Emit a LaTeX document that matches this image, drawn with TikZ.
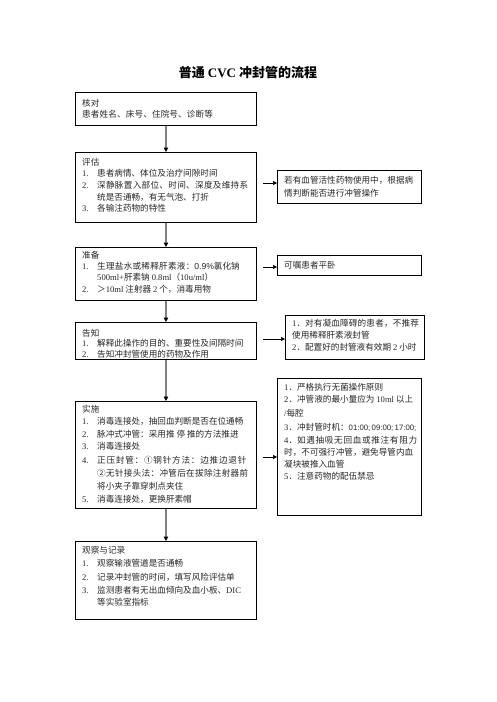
\documentclass[tikz,border=0pt]{standalone}
\usepackage{fontspec}
\setmainfont{Noto Sans CJK SC}
\newfontfamily\latinf{Liberation Serif}
\newfontfamily\sansf{Liberation Sans}
\usetikzlibrary{arrows.meta,calc}
\tikzset{
 mbox/.style={draw=black, line width=0.9pt, anchor=north west, inner sep=0pt},
 txt/.style={anchor=west, inner sep=0pt, text=black!85, font=\fontsize{8.6}{10}\selectfont, text height=7.6pt, text depth=1pt},
 varrow/.style={draw=black!50, line width=1.6pt, -{Triangle[color=black,length=4.5pt,width=4.5pt]}},
 harrow/.style={draw=black, line width=0.6pt, -{Triangle[length=4pt,width=4pt]}},
}
\newcommand\itm[1]{\makebox[15pt][l]{\latinf #1}}
\newcommand\la[1]{{\latinf #1}}
\newcommand\jst[2]{{\addfontfeatures{LetterSpace=#1}#2}}
\begin{document}
\begin{tikzpicture}[x=1pt,y=-1pt]
\useasboundingbox (0,0) rectangle (496,702);
\node[font=\fontsize{13}{15}\selectfont\bfseries] (title) at (248,73) {普通 \la{CVC} 冲封管的流程};
% main boxes
\node[mbox, minimum width=181pt, minimum height=33pt] (b1) at (75,92) {};
\node[mbox, minimum width=181pt, minimum height=70pt] (b2) at (75,152) {};
\node[mbox, minimum width=181pt, minimum height=53pt] (b3) at (75,247) {};
\node[mbox, minimum width=181pt, minimum height=37pt] (b4) at (75,322) {};
\node[mbox, minimum width=181pt, minimum height=107pt] (b5) at (75,401) {};
\node[mbox, minimum width=181pt, minimum height=78pt] (b6) at (75,541) {};
% side boxes
\node[mbox, minimum width=144pt, minimum height=33pt] (s1) at (277,170) {};
\node[mbox, minimum width=144pt, minimum height=20pt] (s2) at (277,255) {};
\node[mbox, minimum width=139pt, minimum height=44pt] (s3) at (285,315) {};
\node[mbox, minimum width=144pt, minimum height=137pt] (s4) at (277,378) {};
% vertical arrows
\draw[varrow] (b1.south) -- (b2.north);
\draw[varrow] (b2.south) -- (b3.north);
\draw[varrow] (b3.south) -- (b4.north);
\draw[varrow] (b4.south) -- (b5.north);
\draw[varrow] (b5.south) -- (b6.north);
% horizontal arrows
\coordinate (h1) at (263,183);
\coordinate (h2) at (263,267);
\coordinate (h3) at (263,339);
\coordinate (h4) at (263,457);
\draw[harrow] (h1) -- (h1 -| s1.west);
\draw[harrow] (h2) -- (h2 -| s2.west);
\draw[harrow] (h3) -- (h3 -| s3.west);
\draw[harrow] (h4) -- (h4 -| s4.west);
% box 1
\node[txt] (t1a) at (82,103) {核对};
\node[txt] (t1b) at (82,114.5) {\jst{1.5}{患者姓名、床号、住院号、诊断等}};
% box 2
\node[txt] (t2a) at (82,162) {评估};
\node[txt] (t2b) at (82,173.5) {\itm{1.}患者病情、体位及治疗间隙时间};
\node[txt] (t2c) at (82,185) {\itm{2.}\jst{3.5}{深静脉置入部位、时间、深度及维持系}};
\node[txt] (t2d) at (97,197) {统是否通畅，有无气泡、打折};
\node[txt] (t2e) at (82,208.5) {\itm{3.}各输注药物的特性};
% box 3
\node[txt] (t3a) at (82,255) {准备};
\node[txt] (t3b) at (82,266) {\itm{1.}\jst{3}{生理盐水或稀释肝素液：}{\sansf 0.9\%}氯化钠};
\node[txt] (t3c) at (97,277.5) {\la{500ml+}肝素钠 \la{0.8ml}（\la{10u/ml}）};
\node[txt] (t3d) at (82,289) {\itm{2.}＞\la{10ml} 注射器 \la{2} 个，消毒用物};
% box 4
\node[txt] (t4a) at (82,333) {告知};
\node[txt] (t4b) at (82,343.5) {\itm{1.}解释此操作的目的、重要性及间隔时间};
\node[txt] (t4c) at (82,354) {\itm{2.}告知冲封管使用的药物及作用};
% box 5
\node[txt] (t5a) at (82,409) {实施};
\node[txt] (t5b) at (82,421) {\itm{1.}消毒连接处，抽回血判断是否在位通畅};
\node[txt] (t5c) at (82,434) {\itm{2.}脉冲式冲管：采用推 停 推的方法推进};
\node[txt] (t5d) at (82,446.5) {\itm{3.}消毒连接处};
\node[txt] (t5e) at (82,460) {\itm{4.}\jst{9}{正压封管：①钢针方法：边推边退针}};
\node[txt] (t5f) at (97,473) {\jst{3.5}{②无针接头法：冲管后在拔除注射器前}};
\node[txt] (t5g) at (97,486) {将小夹子靠穿刺点夹住};
\node[txt] (t5h) at (82,499) {\itm{5.}消毒连接处，更换肝素帽};
% box 6
\node[txt] (t6a) at (82,550) {观察与记录};
\node[txt] (t6b) at (82,563) {\itm{1.}观察输液管道是否通畅};
\node[txt] (t6c) at (82,577) {\itm{2.}记录冲封管的时间，填写风险评估单};
\node[txt] (t6d) at (82,590) {\itm{3.}监测患者有无出血倾向及血小板、\la{DIC}};
\node[txt] (t6e) at (97,602) {等实验室指标};
% side 1
\node[txt] (u1a) at (284,180) {若有血管活性药物使用中，根据病};
\node[txt] (u1b) at (284,193) {情判断能否进行冲管操作};
% side 2
\node[txt] (u2a) at (284,265) {可嘱患者平卧};
% side 3
\node[txt] (u3a) at (292,323) {\la{1}．\jst{2}{对有凝血障碍的患者，不推荐}};
\node[txt] (u3b) at (292,335) {使用稀释肝素液封管};
\node[txt] (u3c) at (292,347) {\la{2}．配置好的封管液有效期 \la{2} 小时};
% side 4
\node[txt] (u4a) at (284,387) {\la{1}．严格执行无菌操作原则};
\node[txt] (u4b) at (284,399.5) {\la{2}．冲管液的最小量应为 \la{10ml} 以上};
\node[txt] (u4c) at (284,413) {\la{/}每腔};
\node[txt] (u4d) at (284,427) {\la{3}．冲封管时机：{\sansf\fontsize{7.8}{9}\selectfont 01:00;\,09:00;\,17:00;}};
\node[txt] (u4e) at (284,440) {\la{4}．\jst{8}{如遇抽吸无回血或推注有阻力}};
\node[txt] (u4f) at (284,452) {时，不可强行冲管，避免导管内血};
\node[txt] (u4g) at (284,464) {凝块被推入血管};
\node[txt] (u4h) at (284,476) {\la{5}．注意药物的配伍禁忌};
\end{tikzpicture}
\end{document}
